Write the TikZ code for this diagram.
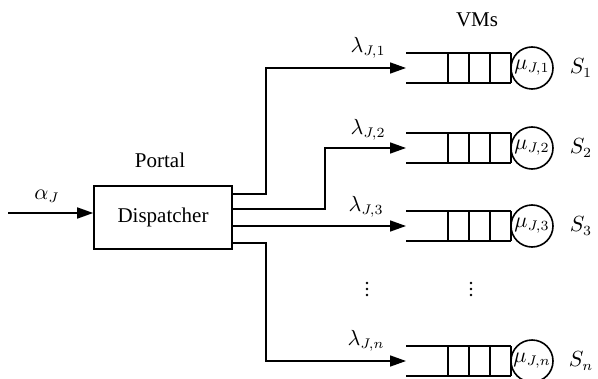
\documentclass[tikz,border=0pt]{standalone}
\usepackage{fontspec}
\setmainfont{Liberation Serif}
\usetikzlibrary{arrows.meta,calc}
\tikzset{
  wire/.style={line width=0.8pt},
  arr/.style={wire,-{Triangle[length=8pt,width=5.5pt]}},
  dispbox/.style={draw,line width=0.8pt,minimum width=69pt,minimum height=31.5pt,inner sep=0pt},
  server/.style={circle,draw,line width=0.8pt,minimum size=21pt,inner sep=0pt},
  lbl/.style={inner sep=0pt},
  dotmark/.style={circle,fill,inner sep=0pt,minimum size=1.3pt}
}
\begin{document}
\begin{tikzpicture}[x=0.5pt,y=-0.5pt,font=\fontsize{10.5}{12.6}\selectfont]
\useasboundingbox (0,0) rectangle (598,379);
% dispatcher
\node[dispbox] (disp) at (163,217.5) {Dispatcher};
\node[lbl] (portal) at (160,160) {Portal};
\coordinate (in) at (8,213);
\node[lbl] (alpha) at (47,196) {$\alpha_J$};
\draw[arr] (in) -- (disp.west |- in);
% queues
\foreach \i/\y/\sub/\s in {1/68/1/1, 2/148/2/2, 3/226/3/3, 4/361/n/n}{
  \coordinate (q\i) at (406,\y);
  \draw[wire] (406,\y-15) -- (511,\y-15) (406,\y+15) -- (511,\y+15);
  \foreach \xx in {448,469,490,511}{\draw[wire] (\xx,\y-15) -- (\xx,\y+15);}
  \node[server] (srv\i) at (532,\y) {$\mu_{J,\sub}$};
  \node[lbl] (s\i) at (581,\y) {$S_\s$};
}
\node[lbl] (l1) at (368,48) {$\lambda_{J,1}$};
\node[lbl] (l2) at (368,130) {$\lambda_{J,2}$};
\node[lbl] (l3) at (366,207) {$\lambda_{J,3}$};
\node[lbl] (l4) at (366,341) {$\lambda_{J,n}$};
\node[lbl] (vms) at (477,20) {VMs};
% vertical ellipses
\foreach \xx in {367,471}{
  \foreach \yy in {283,289,295}{\node[dotmark] at (\xx,\yy) {};}
}
% connectors
\draw[arr] ($(disp.east)+(0,-23.5)$) -- ++(33,0) |- (q1);
\draw[arr] ($(disp.east)+(0,-8.5)$) -- ++(92,0) |- (q2);
\draw[arr] ($(disp.east)+(0,8.5)$) -- (q3);
\draw[arr] ($(disp.east)+(0,25.5)$) -- ++(33,0) |- (q4);
\end{tikzpicture}
\end{document}
